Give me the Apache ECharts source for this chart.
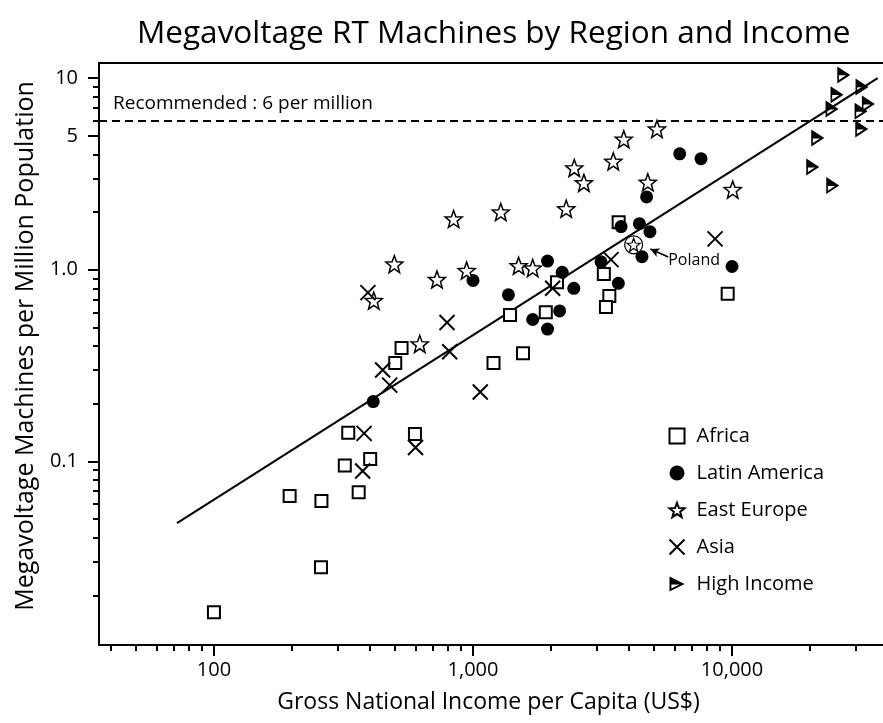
<!DOCTYPE html>
<html>
<head>
<meta charset="utf-8">
<script src="https://cdn.jsdelivr.net/npm/echarts@6/dist/echarts.min.js"></script>
<style>
  html, body { margin: 0; padding: 0; background: #fff; }
  #chart { width: 883px; height: 723px; }
</style>
</head>
<body>
<div id="chart"></div>
<script>
// data: [GNI per capita (US$), machines per million]
var africa = [
    [100, 0.0163], [196, 0.066], [260, 0.062], [259, 0.028], [362, 0.069],
    [330, 0.141], [320, 0.095], [401, 0.103], [597, 0.139], [501, 0.326],
    [530, 0.39], [1200, 0.326], [1560, 0.367], [1390, 0.58], [1910, 0.6],
    [2110, 0.86], [3650, 1.77], [3200, 0.95], [3360, 0.73], [3260, 0.64],
    [9620, 0.75]
];
var latinAmerica = [
    [412, 0.205], [1000, 0.88], [1370, 0.74], [1700, 0.55], [1940, 0.49],
    [1940, 1.11], [2210, 0.97], [2160, 0.61], [2450, 0.8], [3120, 1.1],
    [3640, 0.85], [3730, 1.68], [4390, 1.74], [4820, 1.58], [4490, 1.17],
    [4680, 2.4], [6280, 4.03], [7590, 3.8], [10000, 1.04]
];
var eastEurope = [
    [414, 0.69], [497, 1.07], [623, 0.41], [726, 0.89], [842, 1.84],
    [945, 0.99], [1280, 2.0], [1500, 1.05], [1700, 1.02], [2290, 2.08],
    [2460, 3.4], [2680, 2.84], [3480, 3.68], [3820, 4.8], [5130, 5.43],
    [4730, 2.86], [10060, 2.62]
];
var poland = [4170, 1.35];
var asia = [
    [393, 0.76], [794, 0.53], [813, 0.373], [448, 0.30], [477, 0.25],
    [1067, 0.23], [2030, 0.80], [3410, 1.13], [8600, 1.45], [380, 0.14],
    [375, 0.089], [600, 0.118]
];
var highIncome = [
    [27000, 10.4], [31760, 9.0], [25430, 8.2], [33600, 7.33], [24330, 6.9],
    [31490, 6.71], [31680, 5.43], [21420, 4.87], [20490, 3.44], [24480, 2.75]
];
var fitLine = [[72, 0.0476], [36500, 10]];
var recommended = 6;
var polandArrow = [[5675, 1.165], [4836, 1.283]];

// ticks
var xMajor = [100, 1000, 10000];
var xMinor = [40, 50, 60, 70, 80, 90, 200, 300, 400, 500, 600, 700, 800, 900,
    2000, 3000, 4000, 5000, 6000, 7000, 8000, 9000, 20000, 30000];
var yMajor = [0.1, 1, 5, 10];
var yMinor = [0.02, 0.03, 0.04, 0.05, 0.06, 0.07, 0.08, 0.09,
    0.2, 0.3, 0.4, 0.5, 0.6, 0.7, 0.8, 0.9, 2, 3, 4, 6, 7, 8, 9];

var starPath = 'path://M10,0L12.469,6.602L19.511,6.910L13.995,11.298L15.878,18.090L10,14.2L4.122,18.090L6.005,11.298L0.489,6.910L7.531,6.602Z';
var crossPath = 'path://M0,0L10,10M10,0L0,10';
var flagPath = 'path://M0,0L20,10L0,20Z M2.5,10.5L2.5,15.95L13.4,10.5Z';

var FONT = '"Open Sans", "Noto Sans", sans-serif';
var xMin = 36, xMax = 40000, yMin = 0.011, yMax = 12;

var chart = echarts.init(document.getElementById('chart'));

var option = {
    animation: false,
    backgroundColor: '#fff',
    textStyle: { fontFamily: FONT, color: '#000' },
    title: {
        text: 'Megavoltage RT Machines by Region and Income',
        left: 137,
        top: 18,
        padding: 0,
        textStyle: { fontFamily: FONT, fontSize: 31.5, fontWeight: 'normal', color: '#000' }
    },
    grid: {
        left: 99, top: 63, right: -5, bottom: 78,
        show: true, borderColor: '#000', borderWidth: 2,
        outerBoundsMode: 'none'
    },
    legend: {
        orient: 'vertical',
        left: 662, top: 421,
        itemWidth: 15, itemHeight: 15, itemGap: 17,
        data: ['Africa', 'Latin America', 'East Europe', 'Asia', 'High Income'],
        formatter: function (name) { return '{gap|}' + name; },
        textStyle: {
            fontFamily: FONT, fontSize: 20, color: '#000',
            rich: { gap: { width: 7 } }
        }
    },
    xAxis: [{
        type: 'log', min: xMin, max: xMax, position: 'bottom',
        name: 'Gross National Income per Capita (US$)',
        nameLocation: 'middle', nameGap: 46,
        nameTextStyle: { fontFamily: FONT, fontSize: 23, color: '#000', padding: [0, 10, 0, 0] },
        axisLine: { lineStyle: { color: '#000', width: 2 } },
        axisTick: { customValues: xMajor, length: 11, lineStyle: { color: '#000', width: 2 } },
        axisLabel: {
            customValues: xMajor, margin: 15, fontSize: 20, color: '#000', fontFamily: FONT,
            formatter: function (v) { return Number(v).toLocaleString('en-US'); }
        },
        splitLine: { show: false }
    }, {
        type: 'log', min: xMin, max: xMax, position: 'bottom',
        axisLine: { show: false },
        axisTick: { customValues: xMinor, length: 6, lineStyle: { color: '#000', width: 2 } },
        axisLabel: { show: false },
        splitLine: { show: false }
    }],
    yAxis: [{
        type: 'log', min: yMin, max: yMax, position: 'left',
        name: 'Megavoltage Machines per Million Population',
        nameLocation: 'middle', nameGap: 61,
        nameTextStyle: { fontFamily: FONT, fontSize: 25, color: '#000', padding: [0, 0, 0, 16] },
        axisLine: { lineStyle: { color: '#000', width: 2 } },
        axisTick: { customValues: yMajor, length: 11, lineStyle: { color: '#000', width: 2 } },
        axisLabel: {
            customValues: yMajor, margin: 21, fontSize: 20, color: '#000', fontFamily: FONT,
            formatter: function (v) { return v === 1 ? '1.0' : String(v); }
        },
        splitLine: { show: false }
    }, {
        type: 'log', min: yMin, max: yMax, position: 'left',
        axisLine: { show: false },
        axisTick: { customValues: yMinor, length: 6, lineStyle: { color: '#000', width: 2 } },
        axisLabel: { show: false },
        splitLine: { show: false }
    }],
    series: [{
        name: 'fit',
        type: 'line',
        data: fitLine,
        showSymbol: false,
        symbol: 'none',
        lineStyle: { color: '#000', width: 2 },
        z: 1,
        markLine: {
            silent: true,
            symbol: 'none',
            lineStyle: { color: '#000', width: 1.8, type: [8, 5] },
            label: {
                show: true,
                position: 'insideStartTop',
                distance: [14, 8],
                formatter: 'Recommended : 6 per million',
                fontFamily: FONT, fontSize: 19, color: '#000'
            },
            data: [{ yAxis: recommended }]
        }
    }, {
        name: 'Africa',
        type: 'scatter',
        data: africa,
        symbol: 'rect',
        symbolSize: 12,
        itemStyle: { color: '#fff', borderColor: '#000', borderWidth: 2, opacity: 1 },
        z: 3
    }, {
        name: 'Latin America',
        type: 'scatter',
        data: latinAmerica,
        symbol: 'circle',
        symbolSize: 13,
        itemStyle: { color: '#000', opacity: 1 },
        z: 3
    }, {
        name: 'East Europe',
        type: 'scatter',
        data: eastEurope,
        symbol: starPath,
        symbolSize: 17,
        itemStyle: { color: '#fff', borderColor: '#000', borderWidth: 1.5, opacity: 1 },
        z: 3
    }, {
        name: 'Asia',
        type: 'scatter',
        data: asia,
        symbol: crossPath,
        symbolSize: 15,
        itemStyle: { color: 'none', borderColor: '#000', borderWidth: 2, opacity: 1 },
        z: 3
    }, {
        name: 'High Income',
        type: 'scatter',
        data: highIncome,
        symbol: flagPath,
        symbolSize: [13, 17],
        itemStyle: { color: '#000', opacity: 1 },
        z: 3
    }, {
        name: 'Poland',
        type: 'scatter',
        data: [{
            value: poland,
            label: {
                show: true, formatter: 'Poland', position: 'right', offset: [20, 16],
                fontFamily: FONT, fontSize: 16, color: '#000'
            }
        }],
        symbol: 'circle',
        symbolSize: 18,
        itemStyle: { color: '#fff', borderColor: '#000', borderWidth: 1.2, opacity: 1 },
        z: 3,
        markLine: {
            silent: true,
            symbol: ['none', 'arrow'],
            symbolSize: [7, 9],
            lineStyle: { color: '#000', width: 1.5, type: 'solid' },
            label: { show: false },
            data: [[{ coord: polandArrow[0] }, { coord: polandArrow[1] }]]
        }
    }, {
        name: 'Poland star',
        type: 'scatter',
        data: [poland],
        symbol: starPath,
        symbolSize: 13,
        itemStyle: { color: '#fff', borderColor: '#000', borderWidth: 1.2, opacity: 1 },
        z: 4
    }]
};

chart.setOption(option);
</script>
</body>
</html>
